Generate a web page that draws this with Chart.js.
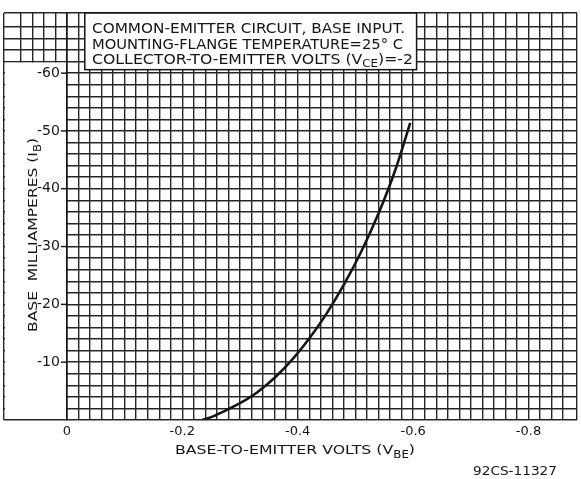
<!DOCTYPE html>
<html>
<head>
<meta charset="utf-8">
<script src="https://cdn.jsdelivr.net/npm/chart.js@4.4.1/dist/chart.umd.min.js"></script>
<style>
  body { margin: 0; background: #fff; }
  #wrap { width: 581px; height: 479px; }
</style>
</head>
<body>
<div id="wrap"><canvas id="grafico" width="581" height="479"></canvas></div>
<script>
// curva: VBE (volts) vs IB (mA)
const vbe = [-0.235, -0.25, -0.27, -0.30, -0.33, -0.36, -0.39, -0.42, -0.45, -0.48, -0.51, -0.54, -0.57, -0.595];
const ib = [0, -0.5, -1.4, -2.9, -4.8, -7.3, -10.4, -14.1, -18.4, -23.4, -29.1, -35.7, -43.5, -51.4];

const xTickLabels = [0, -0.2, -0.4, -0.6, -0.8];
const yTickLabels = [-10, -20, -30, -40, -50, -60];

// texto con subindices: [texto, esSubindice]
const titulo = [
  [["COMMON-EMITTER CIRCUIT, BASE INPUT.", false]],
  [["MOUNTING-FLANGE TEMPERATURE=25° C", false]],
  [["COLLECTOR-TO-EMITTER VOLTS (V", false], ["CE", true], [")=-2", false]]
];
const tituloX = [["BASE-TO-EMITTER VOLTS (V", false], ["BE", true], [")", false]];
const tituloY = [["BASE  MILLIAMPERES (I", false], ["B", true], [")", false]];
const codigo = [["92CS-11327", false]];

const fuente = '"DejaVu Sans", sans-serif';
const tinta = "#151515";

function texto(ctx, partes, x, y, ancho, size) {
  ctx.save();
  ctx.textBaseline = "alphabetic";
  ctx.textAlign = "left";
  ctx.fillStyle = tinta;
  let total = 0;
  const medidas = partes.map(([t, sub]) => {
    ctx.font = `${sub ? size * 0.75 : size}px ${fuente}`;
    const w = ctx.measureText(t).width;
    total += w;
    return w;
  });
  ctx.translate(x, y);
  ctx.scale(ancho / total, 1);
  let cx = 0;
  partes.forEach(([t, sub], i) => {
    ctx.font = `${sub ? size * 0.75 : size}px ${fuente}`;
    ctx.fillText(t, cx, sub ? size * 0.28 : 0);
    cx += medidas[i];
  });
  ctx.restore();
}

const papel = {
  id: "papel",
  beforeDatasetsDraw(chart) {
    const { ctx, chartArea: a, scales: { x, y } } = chart;
    const x0 = x.getPixelForValue(0);
    ctx.save();
    ctx.fillStyle = "#fff";
    // franja en blanco a la izquierda del cero
    const yTop = y.getPixelForValue(-62);
    ctx.fillRect(a.left + 1, yTop + 1, x0 - a.left - 2, a.bottom - yTop - 2);
    // recuadro del titulo
    const bx1 = x.getPixelForValue(-0.031);
    const bx2 = x.getPixelForValue(-0.606);
    const by2 = y.getPixelForValue(-60.6);
    ctx.fillRect(bx1, a.top, bx2 - bx1, by2 - a.top);
    ctx.strokeStyle = tinta;
    ctx.lineWidth = 1.5;
    ctx.strokeRect(bx1, a.top, bx2 - bx1, by2 - a.top);
    ctx.restore();
  },
  afterDraw(chart) {
    const { ctx, scales: { x, y } } = chart;
    const x0 = x.getPixelForValue(0);
    ctx.save();
    // marcas cortas en los valores rotulados
    ctx.strokeStyle = tinta;
    ctx.lineWidth = 1.4;
    yTickLabels.forEach((v) => {
      const py = y.getPixelForValue(v);
      ctx.beginPath();
      ctx.moveTo(x0 - 6, py);
      ctx.lineTo(x0, py);
      ctx.stroke();
    });
    ctx.restore();

    texto(ctx, titulo[0], 92, 33, 313, 14);
    texto(ctx, titulo[1], 92, 48.5, 311, 14);
    texto(ctx, titulo[2], 92, 63.5, 321, 14);
    texto(ctx, tituloX, 175, 454, 240, 13);
    texto(ctx, codigo, 473, 475, 84, 13);

    ctx.save();
    ctx.translate(37, 332);
    ctx.rotate(-Math.PI / 2);
    texto(ctx, tituloY, 0, 0, 194, 13);
    ctx.restore();
  }
};

const rejilla = { color: "#262626", lineWidth: 1.4, drawTicks: false };

new Chart(document.getElementById("grafico"), {
  type: "line",
  data: {
    datasets: [{
      data: vbe.map((v, i) => ({ x: v, y: ib[i] })),
      borderColor: tinta,
      borderWidth: 2.6,
      pointRadius: 0,
      cubicInterpolationMode: "monotone",
      fill: false
    }]
  },
  options: {
    responsive: false,
    animation: false,
    layout: { padding: { left: 4, right: 3, top: 13, bottom: 0 } },
    plugins: { legend: { display: false }, tooltip: { enabled: false } },
    scales: {
      x: {
        type: "linear",
        reverse: true,
        min: -0.884,
        max: 0.109,
        afterFit: (s) => { s.height = 59; },
        grid: rejilla,
        border: { display: false },
        ticks: {
          stepSize: 0.02,
          autoSkip: false,
          maxRotation: 0,
          padding: 4,
          color: tinta,
          font: { family: fuente, size: 13 },
          callback: (v) => {
            const l = xTickLabels.find((t) => Math.abs(t - v) < 1e-6);
            if (l === undefined) return "";
            return l === 0 ? "0" : l.toFixed(1);
          }
        }
      },
      y: {
        type: "linear",
        reverse: true,
        min: -70.4,
        max: 0,
        position: { x: 0 },
        grid: rejilla,
        border: { display: true, color: tinta, width: 1.6, z: 1 },
        ticks: {
          stepSize: 2,
          autoSkip: false,
          z: 1,
          color: tinta,
          font: { family: fuente, size: 14 },
          callback: (v) => {
            const r = Math.round(v);
            return Math.abs(v - r) < 1e-6 && yTickLabels.includes(r) ? r + "\u2002" : "";
          }
        }
      }
    }
  },
  plugins: [papel]
});
</script>
</body>
</html>
